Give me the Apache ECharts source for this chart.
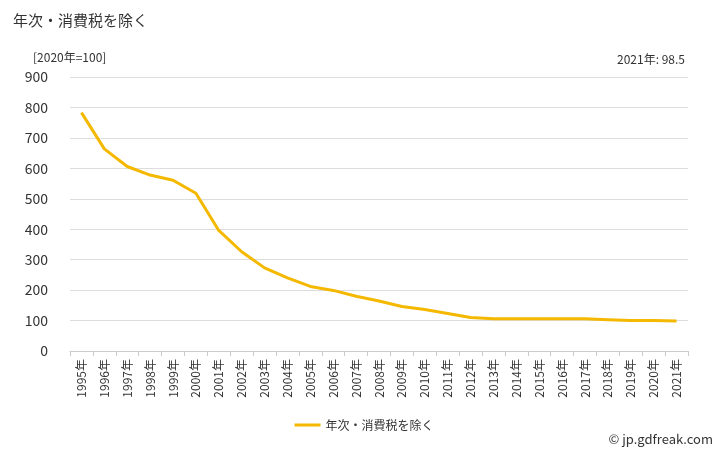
<!DOCTYPE html>
<html><head><meta charset="utf-8">
<script src="https://cdn.jsdelivr.net/npm/echarts@6/dist/echarts.min.js"></script>
<style>html,body{margin:0;padding:0;background:#fff}#c{width:728px;height:450px}</style>
</head><body><div id="c"></div>
<script>
const categories = ['1995年','1996年','1997年','1998年','1999年','2000年','2001年','2002年','2003年','2004年','2005年','2006年','2007年','2008年','2009年','2010年','2011年','2012年','2013年','2014年','2015年','2016年','2017年','2018年','2019年','2020年','2021年'];
const values = [783,664,606,578,561,518,396,326,273,240,212,199,180,164,146,136,123,110,106,106,106,106,106,103,100,100,98.5];
const seriesName = '年次・消費税を除く';
const font = '"Noto Sans CJK JP", sans-serif';
const chart = echarts.init(document.getElementById('c'));
chart.setOption({
  animation:false,
  textStyle:{fontFamily:font},
  title:[{text:'年次・消費税を除く',left:8,top:8,textStyle:{fontSize:15,fontWeight:'normal',color:'#333',fontFamily:font}},
    {text:'[2020年=100]',left:28,top:46,textStyle:{fontSize:12,fontWeight:'normal',color:'#333',fontFamily:font}},
    {text:'2021年: 98.5',right:38,top:48,textStyle:{fontSize:12,fontWeight:'normal',color:'#333',fontFamily:font}},
    {text:'© jp.gdfreak.com',right:10,top:428,textStyle:{fontSize:13,fontWeight:'normal',color:'#333',fontFamily:font}}],
  legend:{bottom:14,left:'center',itemWidth:26,itemHeight:3,icon:'rect',textStyle:{fontSize:12,color:'#333'},data:[seriesName]},
  grid:{left:70,right:40,top:77,bottom:99},
  xAxis:{type:'category',data:categories,boundaryGap:true,
    axisLine:{lineStyle:{color:'#ccc'}},axisTick:{show:true,alignWithLabel:false,lineStyle:{color:'#ccc'}},
    axisLabel:{rotate:90,fontSize:12,color:'#333',interval:0}},
  yAxis:{type:'value',min:0,max:900,interval:100,
    axisLabel:{fontSize:14,color:'#333',margin:22},
    splitLine:{lineStyle:{color:'#ddd'}},axisLine:{show:false},axisTick:{show:false}},
  series:[{name:seriesName,type:'line',data:values,showSymbol:false,symbol:'none',
    lineStyle:{color:'#f5b800',width:3},itemStyle:{color:'#f5b800'}}]
});
</script></body></html>
